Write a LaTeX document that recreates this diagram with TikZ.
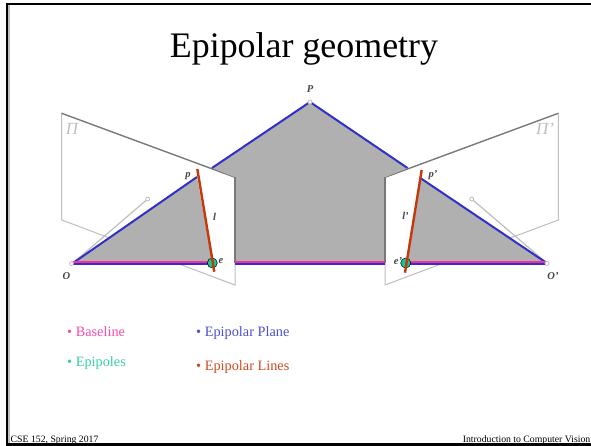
\documentclass[tikz,border=0pt]{standalone}
\usepackage{fontspec}
\setmainfont{Liberation Serif}
\definecolor{planegray}{RGB}{176,176,176}
\definecolor{edgeblue}{RGB}{48,48,200}
\definecolor{basepink}{RGB}{250,45,155}
\definecolor{epired}{RGB}{200,55,10}
\definecolor{epigreen}{RGB}{20,200,150}
\definecolor{framegray}{RGB}{190,190,190}
\definecolor{topgray}{RGB}{120,120,120}
\definecolor{labgray}{RGB}{70,70,70}
\tikzset{
  imgplane/.style={draw=framegray,line width=1pt,fill=white},
  planeedge/.style={draw=topgray,line width=1.3pt},
  bluel/.style={draw=edgeblue,line width=2pt},
  pinkl/.style={draw=basepink,line width=2pt},
  redl/.style={draw=epired,line width=2.4pt},
  epipole/.style={circle,draw=black,line width=0.5pt,fill=epigreen,minimum size=10pt,inner sep=0pt},
  tinydot/.style={circle,draw=framegray,line width=0.8pt,fill=white,minimum size=4pt,inner sep=0pt},
  ray/.style={draw=framegray,line width=1.2pt},
  glabel/.style={text=labgray,font=\fontsize{10.5}{10.5}\selectfont\itshape\bfseries,inner sep=0pt},
  pilabel/.style={text=framegray,font=\fontsize{17}{17}\selectfont\itshape,inner sep=0pt},
  item/.style={anchor=base west,font=\fontsize{14.3}{15}\selectfont,inner sep=0pt},
  foot/.style={font=\fontsize{9.75}{10}\selectfont,inner sep=0pt}
}
\begin{document}
\begin{tikzpicture}[x=1pt,y=-1pt]
\useasboundingbox (0,0) rectangle (591,446);
\fill[white] (0,0) rectangle (591,446);
% frame
\draw[framegray,line width=2pt] (9,5) -- (9,443);
\draw[black,line width=2.6pt] (595,4) -- (7,4) -- (7,444.7) -- (595,444.7);
% title
\node[font=\fontsize{35.9}{36}\selectfont,inner sep=0pt,anchor=base] (title) at (304,58) {Epipolar geometry};
% named points
\coordinate (P) at (310,102);
\coordinate (O) at (73,263);
\coordinate (Oq) at (546.7,263);
\coordinate (p) at (197,177);
\coordinate (pq) at (420.7,178.3);
\coordinate (e) at (212.3,263);
\coordinate (eq) at (405.7,263);
\coordinate (Lm) at (235,177.3);
\coordinate (Lb) at (235,285);
\coordinate (Rm) at (385,177.3);
\coordinate (Rb) at (385,285);
\coordinate (LTL) at (61.7,113.3);
\coordinate (LBL) at (61.7,220);
\coordinate (RTR) at (558.3,113.3);
\coordinate (RBR) at (558.3,220);
\coordinate (Lg) at (235,263);
\coordinate (Rg) at (385,263);
\coordinate (Lu) at (212,168);
\coordinate (Ru) at (407.5,168);
% image planes
\draw[imgplane] (LTL) -- (Lm) -- (Lb) -- (LBL) -- cycle;
\draw[imgplane] (RTR) -- (Rm) -- (Rb) -- (RBR) -- cycle;
\draw[planeedge] (LTL) -- (Lm);
\draw[planeedge] (RTR) -- (Rm);
% rays
\node[tinydot] (a) at (147.7,199) {};
\node[tinydot] (b) at (471.7,199) {};
\draw[ray] (O) -- (a);
\draw[ray] (Oq) -- (b);
% epipolar plane parts
\fill[planegray] (P) -- (Lu) -- (Lm) -- (Lg) -- (Rg) -- (Rm) -- (Ru) -- cycle;
\fill[planegray] (O) -- (p) -- (e) -- cycle;
\fill[planegray] (Oq) -- (pq) -- (eq) -- cycle;
\draw[planeedge] (Lm) -- (Lg);
\draw[planeedge] (Rm) -- (Rg);
% edges
\draw[bluel] (O) -- (p);
\draw[bluel] (Lu) -- (P) -- (Ru);
\draw[bluel] (pq) -- (Oq);
\draw[bluel] ([yshift=-1pt]O) -- ([yshift=-1pt]e);
\draw[bluel] ([yshift=-1pt]Lg) -- ([yshift=-1pt]Rg);
\draw[bluel] ([yshift=-1pt]eq) -- ([yshift=-1pt]Oq);
\draw[pinkl] ([yshift=1pt]O) -- ([yshift=1pt]e);
\draw[pinkl] ([yshift=1pt]Lg) -- ([yshift=1pt]Rg);
\draw[pinkl] ([yshift=1pt]eq) -- ([yshift=1pt]Oq);
% epipoles and epipolar lines
\node[epipole] (ee) at (e) {};
\node[epipole] (eeq) at (eq) {};
\coordinate (r1) at (197.3,169);
\coordinate (r2) at (214.3,271.7);
\coordinate (r3) at (421.7,170);
\coordinate (r4) at (405,272.7);
\draw[redl] (r1) -- (r2);
\draw[redl] (r3) -- (r4);
% tiny points
\node[tinydot] (Pd) at (P) {};
\node[tinydot] (Od) at (71.5,263.5) {};
\node[tinydot] (Oqd) at (547,263.5) {};
% labels
\node[glabel] (lP) at (310,89) {P};
\node[glabel] (lO) at (66.5,276) {O};
\node[glabel] (lOq) at (553,276) {O'};
\node[glabel] (lp) at (188,176) {p};
\node[glabel] (lpq) at (433,175) {p'};
\node[glabel] (ll) at (214.5,217) {l};
\node[glabel] (llq) at (405.5,216) {l'};
\node[glabel] (le) at (221,261) {e};
\node[glabel] (leq) at (398,261) {e'};
\node[pilabel] (pi1) at (72,129) {Π};
\node[pilabel] (pi2) at (545,129) {Π'};
% bullets
\node[item,text=basepink!85!white] (t1) at (67,336) {• Baseline};
\node[item,text=epigreen!85!white] (t2) at (67,366) {• Epipoles};
\node[item,text=edgeblue!85!white] (t3) at (196,336) {• Epipolar Plane};
\node[item,text=epired!90!white] (t4) at (196,370) {• Epipolar Lines};
% footers
\node[foot,anchor=base west] (f1) at (10.5,442) {CSE 152, Spring 2017};
\node[foot,anchor=base east] (f2) at (590.5,442) {Introduction to Computer Vision};
\end{tikzpicture}
\end{document}
